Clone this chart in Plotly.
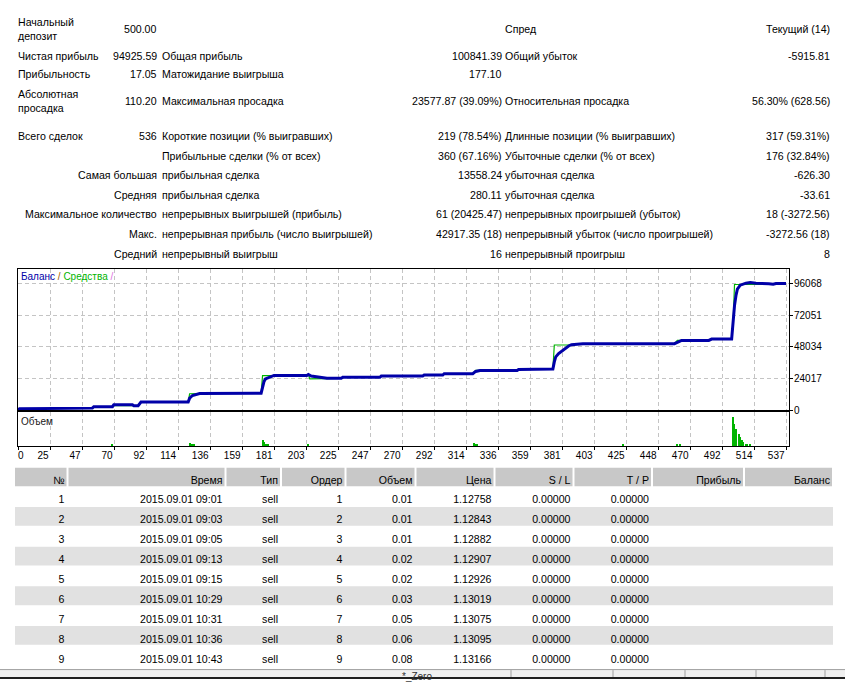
import plotly.graph_objects as go

# ---------------- data ----------------
balance_trade = [0, 1, 52, 53, 66, 67, 80, 81, 84, 86, 119, 120, 122, 125, 127,
                 170, 171, 172, 173, 176, 178, 179, 202, 203, 205, 209, 212, 216,
                 226, 227, 253, 254, 283, 284, 297, 298, 318, 320, 323, 349, 350, 373,
                 374, 375, 376, 378, 381, 383, 385, 387, 395, 459, 462, 464, 483, 485, 499,
                 500, 501, 502, 503, 505, 509, 512, 516, 525, 528, 530, 537]
balance_value = [500, 1200, 1700, 2750, 2750, 4250, 4250, 3500, 3500, 6250,
                 6250, 9250, 11250, 12250, 12750,
                 13000, 18000, 21750, 23800, 25300, 26250, 26500,
                 26500, 27240, 26040, 25290, 24770, 24240,
                 24240, 25000, 25000, 26000, 26000, 26750, 26750, 27750,
                 27750, 29500, 30250, 30250, 31000, 31000,
                 31300, 36750, 40500, 43000, 45500, 47250, 48750, 49750, 50500,
                 50500, 52000, 53000, 53000, 54000, 54000,
                 69250, 79300, 86800, 91800, 94800, 96300, 96800, 96300, 95800, 95500, 96000, 96100]

equity_trade = [0, 1, 52, 53, 66, 67, 80, 84, 86, 119, 120, 127, 170, 171, 178, 179,
                202, 203, 204, 216, 217, 226, 227, 253, 254, 283, 284, 297, 298, 318,
                320, 349, 350, 373, 374, 375, 387, 395, 459, 461, 483, 485, 499,
                500, 501, 525, 528, 530, 537]
equity_value = [500, 1200, 1700, 2750, 2750, 3500, 3500, 3500, 6250, 6250, 12600, 12750,
                13000, 26250, 26250, 26500,
                26500, 27240, 23800, 23800, 24240, 24240, 25000, 25000, 26000, 26000,
                26750, 26750, 27750, 27750,
                30250, 30250, 31000, 31000, 31300, 49500, 49500, 50500, 50500, 53000,
                53000, 54000, 54000,
                66000, 95300, 95300, 95500, 96000, 96100]

volume_trade = [66, 120, 121, 122, 123, 171, 172, 173, 174, 175, 203, 319, 320, 321,
                423, 461, 463, 500, 501, 502, 504, 505, 506, 507, 509, 510, 512]
volume_lots = [0.1, 0.3, 0.2, 0.1, 0.1, 0.6, 0.4, 0.2, 0.1, 0.1, 0.1, 0.3, 0.2, 0.1,
               0.1, 0.1, 0.1, 2.9, 2.2, 1.7, 1.2, 0.9, 0.6, 0.4, 0.2, 0.1, 0.1]

y_ticks = [0, 24017, 48034, 72051, 96068]
x_tick_labels = ["0", "25", "47", "70", "92", "114", "136", "159", "181", "203", "225",
                 "247", "270", "292", "314", "336", "359", "381", "403", "425", "448",
                 "470", "492", "514", "537"]
total_trades = 537

tbl_header = ["№", "Время", "Тип", "Ордер", "Объем", "Цена", "S / L", "T / P", "Прибыль", "Баланс"]
tbl_no = [1, 2, 3, 4, 5, 6, 7, 8, 9]
tbl_time = ["2015.09.01 09:01", "2015.09.01 09:03", "2015.09.01 09:05", "2015.09.01 09:13",
            "2015.09.01 09:15", "2015.09.01 10:29", "2015.09.01 10:31", "2015.09.01 10:36",
            "2015.09.01 10:43"]
tbl_type = ["sell"] * 9
tbl_order = [1, 2, 3, 4, 5, 6, 7, 8, 9]
tbl_volume = ["0.01", "0.01", "0.01", "0.02", "0.02", "0.03", "0.05", "0.06", "0.08"]
tbl_price = ["1.12758", "1.12843", "1.12882", "1.12907", "1.12926", "1.13019", "1.13075",
             "1.13095", "1.13166"]
tbl_sl = ["0.00000"] * 9
tbl_tp = ["0.00000"] * 9
tbl_profit = [""] * 9
tbl_balance = [""] * 9

# stats rows: (label/value text, x px, anchor)
stats = [
    (29, [("Начальный<br>депозит", 18, "left"), ("500.00", 157, "right"),
          ("Спред", 505, "left"), ("Текущий (14)", 830, "right")]),
    (56, [("Чистая прибыль", 18, "left"), ("94925.59", 157, "right"),
          ("Общая прибыль", 162, "left"), ("100841.39", 502, "right"),
          ("Общий убыток", 505, "left"), ("-5915.81", 830, "right")]),
    (75, [("Прибыльность", 18, "left"), ("17.05", 157, "right"),
          ("Матожидание выигрыша", 162, "left"), ("177.10", 502, "right")]),
    (102, [("Абсолютная<br>просадка", 18, "left"), ("110.20", 157, "right"),
           ("Максимальная просадка", 162, "left"), ("23577.87 (39.09%)", 502, "right"),
           ("Относительная просадка", 505, "left"), ("56.30% (628.56)", 830, "right")]),
    (137, [("Всего сделок", 18, "left"), ("536", 157, "right"),
           ("Короткие позиции (% выигравших)", 162, "left"), ("219 (78.54%)", 502, "right"),
           ("Длинные позиции (% выигравших)", 505, "left"), ("317 (59.31%)", 830, "right")]),
    (157, [("Прибыльные сделки (% от всех)", 162, "left"), ("360 (67.16%)", 502, "right"),
           ("Убыточные сделки (% от всех)", 505, "left"), ("176 (32.84%)", 830, "right")]),
    (177, [("Самая большая", 157, "right"), ("прибыльная сделка", 162, "left"),
           ("13558.24", 502, "right"), ("убыточная сделка", 505, "left"), ("-626.30", 830, "right")]),
    (197, [("Средняя", 157, "right"), ("прибыльная сделка", 162, "left"),
           ("280.11", 502, "right"), ("убыточная сделка", 505, "left"), ("-33.61", 830, "right")]),
    (216, [("Максимальное количество", 157, "right"), ("непрерывных выигрышей (прибыль)", 162, "left"),
           ("61 (20425.47)", 502, "right"), ("непрерывных проигрышей (убыток)", 505, "left"),
           ("18 (-3272.56)", 830, "right")]),
    (236, [("Макс.", 157, "right"), ("непрерывная прибыль (число выигрышей)", 162, "left"),
           ("42917.35 (18)", 502, "right"), ("непрерывный убыток (число проигрышей)", 505, "left"),
           ("-3272.56 (18)", 830, "right")]),
    (256, [("Средний", 157, "right"), ("непрерывный выигрыш", 162, "left"),
           ("16", 502, "right"), ("непрерывный проигрыш", 505, "left"), ("8", 830, "right")]),
]

# ---------------- layout helpers ----------------
W, H = 845, 685
FONT = "Liberation Sans, Arial, sans-serif"
TXT = 10.6


def fx(px):
    return px / W


def fy(py):
    return 1 - py / H


BAL_COLOR = "#0000A8"
EQ_COLOR = "#00B400"
GRID = "#C4C4C4"
PLOT_L, PLOT_R = 18, 789
PX_PER_UNIT = 768 / total_trades  # 24 grid steps of 32 px

fig = go.Figure()

fig.add_trace(go.Scatter(x=equity_trade, y=equity_value, mode="lines",
                         line=dict(color=EQ_COLOR, width=1.2), xaxis="x", yaxis="y",
                         hoverinfo="skip"))
fig.add_trace(go.Scatter(x=balance_trade, y=balance_value, mode="lines",
                         line=dict(color=BAL_COLOR, width=3), xaxis="x", yaxis="y",
                         hoverinfo="skip"))
fig.add_trace(go.Bar(x=volume_trade, y=volume_lots, width=0.75,
                     marker=dict(color="#00B400", line=dict(width=0)),
                     xaxis="x2", yaxis="y2", hoverinfo="skip"))

# table (text only; backgrounds drawn as shapes)
col_bounds = [15, 67.5, 225.5, 281, 345.5, 415.5, 494.5, 573.5, 652, 744, 833]
col_widths = [col_bounds[i + 1] - col_bounds[i] for i in range(10)]
clear = "rgba(0,0,0,0)"
fig.add_trace(go.Table(
    domain=dict(x=[fx(col_bounds[0] + 5), fx(col_bounds[-1] + 5)], y=[fy(680), fy(472)]),
    columnwidth=col_widths,
    header=dict(values=tbl_header, fill=dict(color=clear),
                line=dict(color=clear, width=0), align="right", height=19,
                font=dict(family=FONT, size=TXT, color="black")),
    cells=dict(values=[tbl_no, tbl_time, tbl_type, tbl_order, tbl_volume, tbl_price,
                       tbl_sl, tbl_tp, tbl_profit, tbl_balance],
               fill=dict(color=clear), line=dict(color=clear, width=0),
               align="right", height=20,
               font=dict(family=FONT, size=TXT, color="black")),
))

step = total_trades / 24
x_gridvals = [i * step for i in range(25)]
x_range = [0, total_trades * (PLOT_R - PLOT_L) / 768]
# label positions: MT4 draws the number just left of its grid line (first one inside the frame)
DIGIT_W = 5.56
x_labelvals = []
for i, lab in enumerate(x_tick_labels):
    if i == 0:
        x_labelvals.append(x_gridvals[0] + 2.7 / PX_PER_UNIT)
    else:
        x_labelvals.append(x_gridvals[i] - (1.5 + DIGIT_W * len(lab) / 2) / PX_PER_UNIT)

axis_common = dict(showline=True, mirror=True, linecolor="black", linewidth=1,
                   zeroline=False, fixedrange=True)
grid_style = dict(gridcolor=GRID, griddash="4px,3px", gridwidth=1)

fig.update_layout(
    width=W, height=H, margin=dict(l=0, r=0, t=0, b=0),
    paper_bgcolor="white", plot_bgcolor="white", showlegend=False,
    font=dict(family=FONT, size=11, color="black"),
    bargap=0,
    xaxis=dict(domain=[fx(PLOT_L), fx(PLOT_R)], range=x_range, tickmode="array",
               tickvals=x_gridvals, showticklabels=False, ticks="",
               showgrid=True, **grid_style, anchor="y", **axis_common),
    yaxis=dict(domain=[fy(414), fy(271)], range=[0, 96068 * 143 / 128], side="right",
               tickmode="array", tickvals=y_ticks, ticktext=[str(v) for v in y_ticks],
               ticks="outside", ticklen=3, tickcolor="black", ticklabelstandoff=-1,
               showgrid=True, **grid_style,
               tickfont=dict(size=10, family=FONT, color="black"),
               anchor="x", **axis_common),
    xaxis2=dict(domain=[fx(PLOT_L), fx(PLOT_R)], range=x_range, tickmode="array",
                tickvals=x_labelvals, ticktext=x_tick_labels, ticks="",
                tickfont=dict(size=10, family=FONT, color="black"),
                showgrid=False,
                minor=dict(tickmode="array", tickvals=x_gridvals, showgrid=True, **grid_style,
                           ticks="outside", ticklen=3, tickcolor="black"),
                anchor="y2", **axis_common),
    yaxis2=dict(domain=[fy(450), fy(416)], range=[0, 3.4], showticklabels=False,
                ticks="", showgrid=False, anchor="x2", **axis_common),
)

annotations = []
for y, items in stats:
    for text, x, anchor in items:
        annotations.append(dict(text=text, x=fx(x), y=fy(y), xref="paper", yref="paper",
                                xanchor=anchor, yanchor="middle", showarrow=False, align="left",
                                borderpad=0, borderwidth=0,
                                font=dict(family=FONT, size=TXT, color="black")))

annotations.append(dict(
    text='<span style="color:#0000A8">Баланс</span> <span style="color:#A06000">/</span> '
         '<span style="color:#00B400">Средства</span> <span style="color:#E070E0">/</span>',
    x=fx(21), y=fy(279), xref="paper", yref="paper", xanchor="left", yanchor="middle",
    borderpad=0, borderwidth=0, showarrow=False, font=dict(family=FONT, size=10)))
annotations.append(dict(text="Объем", x=fx(21), y=fy(425), xref="paper", yref="paper",
                        xanchor="left", yanchor="middle", showarrow=False,
                        borderpad=0, borderwidth=0,
                        font=dict(family=FONT, size=10, color="#202020")))
annotations.append(dict(text="*_Zero", x=fx(402), y=fy(682), xref="paper", yref="paper",
                        xanchor="left", yanchor="middle", showarrow=False,
                        borderpad=0, borderwidth=0,
                        font=dict(family=FONT, size=10, color="#303030")))
fig.update_layout(annotations=annotations)

shapes = []
# table header cells
for i in range(10):
    x0 = col_bounds[i] + (0 if i == 0 else 1)
    x1 = col_bounds[i + 1] - 1
    shapes.append(dict(type="rect", xref="paper", yref="paper", x0=fx(x0), x1=fx(x1),
                       y0=fy(490.5), y1=fy(472), fillcolor="#C8C8C8", line=dict(width=0),
                       layer="below"))
# alternating row bands
for k in range(9):
    if k % 2 == 1:
        top = 491.5 + 20 * k
        shapes.append(dict(type="rect", xref="paper", yref="paper", x0=fx(15), x1=fx(833),
                           y0=fy(top + 19), y1=fy(top), fillcolor="#E1E1E1",
                           line=dict(width=0), layer="below"))
# status bar
shapes += [
    dict(type="rect", xref="paper", yref="paper", x0=0, x1=1, y0=fy(685), y1=fy(675),
         fillcolor="#F0F0F0", line=dict(width=0), layer="below"),
    dict(type="line", xref="paper", yref="paper", x0=0, x1=1, y0=fy(675.5), y1=fy(675.5),
         line=dict(color="#A0A0A0", width=1)),
    dict(type="line", xref="paper", yref="paper", x0=0, x1=1, y0=fy(684), y1=fy(684),
         line=dict(color="#202020", width=2)),
]
for sx in [511, 613, 685, 756, 825]:
    shapes.append(dict(type="line", xref="paper", yref="paper", x0=fx(sx), x1=fx(sx),
                       y0=fy(683), y1=fy(676), line=dict(color="#A0A0A0", width=1)))
fig.update_layout(shapes=shapes)

fig.write_html("out.html")
